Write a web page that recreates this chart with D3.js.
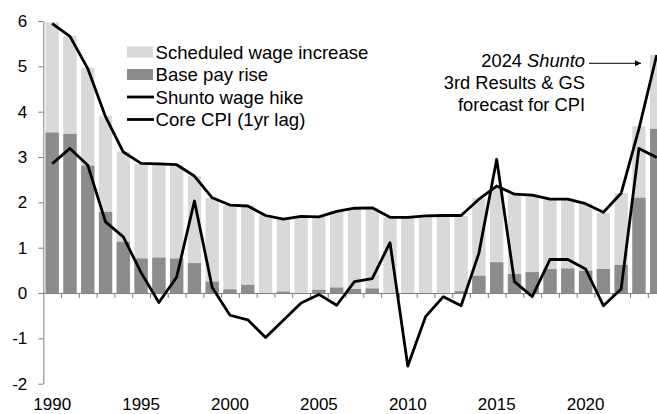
<!DOCTYPE html>
<html>
<head>
<meta charset="utf-8">
<script src="https://cdn.jsdelivr.net/npm/d3@7"></script>
<style>
  body { margin: 0; background: #fff; }
  svg { display: block; font-family: "Liberation Sans", Arial, sans-serif; }
  .axis path, .axis line { stroke: #7f7f7f; }
</style>
</head>
<body>
<div class="chart"></div>
<script>
var width = 657;
var height = 414;

var years = d3.range(1990, 2025);
var scheduled = [5.97, 5.67, 4.97, 3.90, 3.12, 2.85, 2.85, 2.82, 2.58, 2.10, 1.94, 1.93, 1.72, 1.65, 1.68, 1.68, 1.81, 1.88, 1.88, 1.67,
  1.67, 1.68, 1.70, 1.70, 2.09, 2.33, 2.18, 2.16, 2.07, 2.07, 1.98, 1.77, 2.20, 3.68, 5.25];
var basePay = [3.54, 3.51, 2.81, 1.79, 1.13, 0.76, 0.78, 0.76, 0.66, 0.25, 0.08, 0.18, 0.00, 0.03, 0.00, 0.07, 0.12, 0.09, 0.10, 0.00,
  0.00, 0.00, 0.00, 0.04, 0.38, 0.68, 0.42, 0.46, 0.53, 0.54, 0.49, 0.53, 0.62, 2.10, 3.62];
var shunto = [5.94, 5.66, 4.95, 3.89, 3.11, 2.86, 2.85, 2.83, 2.58, 2.10, 1.94, 1.92, 1.71, 1.63, 1.69, 1.68, 1.80, 1.87, 1.88, 1.67,
  1.67, 1.70, 1.71, 1.71, 2.07, 2.36, 2.18, 2.16, 2.07, 2.07, 1.97, 1.78, 2.20, 3.62, 5.25];
var coreCpi = [2.85, 3.19, 2.82, 1.57, 1.24, 0.45, -0.21, 0.35, 2.03, 0.12, -0.49, -0.59, -0.98, -0.60, -0.22, -0.03, -0.27, 0.25, 0.32, 1.11,
  -1.61, -0.52, -0.08, -0.28, 0.88, 2.95, 0.25, -0.08, 0.74, 0.74, 0.53, -0.28, 0.09, 3.19, 2.99];
var yTicks = [-2, -1, 0, 1, 2, 3, 4, 5, 6];
var labelYears = [1990, 1995, 2000, 2005, 2010, 2015, 2020];
var legendItems = ["Scheduled wage increase", "Base pay rise", "Shunto wage hike", "Core CPI (1yr lag)"];

var left = 43.3, step = 17.78;
var right = left + step * years.length;

var xScale = d3.scaleBand().domain(years).range([left, right]).paddingInner(0.25).paddingOuter(0.125);
var xEdge = d3.scaleLinear().domain([1989.5, 2024.5]).range([left, right]);
var yScale = d3.scaleLinear().domain([-2, 6]).range([383.7, 21]);

var svg = d3.select(".chart").append("svg")
  .attr("width", width)
  .attr("height", height);

var rows = years.map(function (y, i) {
  return { year: y, scheduled: scheduled[i], base: basePay[i], shunto: shunto[i], cpi: coreCpi[i] };
});

// bars
svg.append("g").selectAll("rect")
  .data(rows).enter().append("rect")
  .attr("x", function (d) { return xScale(d.year); })
  .attr("width", xScale.bandwidth())
  .attr("y", function (d) { return yScale(d.scheduled); })
  .attr("height", function (d) { return yScale(0) - yScale(d.scheduled); })
  .attr("fill", "#d9d9d9");

svg.append("g").selectAll("rect")
  .data(rows).enter().append("rect")
  .attr("x", function (d) { return xScale(d.year); })
  .attr("width", xScale.bandwidth())
  .attr("y", function (d) { return yScale(d.base); })
  .attr("height", function (d) { return yScale(0) - yScale(d.base); })
  .attr("fill", "#8c8c8c");

// axes
var yAxis = svg.append("g")
  .attr("class", "axis")
  .attr("transform", "translate(" + left + ",0)")
  .call(d3.axisLeft(yScale).tickValues(yTicks).tickSize(5).tickSizeOuter(0).tickPadding(11)
    .tickFormat(function (d) { return String(d); }));
yAxis.selectAll("text").style("font-size", "17px").attr("fill", "#000");

svg.append("g")
  .attr("class", "axis")
  .attr("transform", "translate(0," + yScale(0) + ")")
  .call(d3.axisBottom(xEdge).tickValues(d3.range(1990.5, 2025, 1)).tickSize(5).tickSizeOuter(0).tickFormat(""));

svg.append("g").selectAll("text")
  .data(labelYears).enter().append("text")
  .attr("x", function (d) { return xScale(d) + xScale.bandwidth() / 2; })
  .attr("y", 410)
  .attr("text-anchor", "middle")
  .style("font-size", "17px")
  .text(function (d) { return d; });

// lines
var line = d3.line()
  .x(function (d) { return xScale(d.year) + xScale.bandwidth() / 2; });

svg.append("path")
  .datum(rows)
  .attr("fill", "none")
  .attr("stroke", "#000")
  .attr("stroke-width", 2.8)
  .attr("stroke-linejoin", "round")
  .attr("d", line.y(function (d) { return yScale(d.cpi); }));

svg.append("path")
  .datum(rows)
  .attr("fill", "none")
  .attr("stroke", "#000")
  .attr("stroke-width", 2.8)
  .attr("stroke-linejoin", "round")
  .attr("d", line.y(function (d) { return yScale(d.shunto); }));

// legend
var legend = svg.append("g").attr("transform", "translate(127,0)");
legendItems.forEach(function (name, i) {
  var cy = 52 + i * 22.5;
  if (i < 2) {
    legend.append("rect")
      .attr("x", 0).attr("y", cy - 5.5).attr("width", 26).attr("height", 11)
      .attr("fill", i === 0 ? "#d9d9d9" : "#8c8c8c");
  } else {
    legend.append("line")
      .attr("x1", 0).attr("x2", 27).attr("y1", cy).attr("y2", cy)
      .attr("stroke", "#000").attr("stroke-width", 2.8);
  }
  legend.append("text")
    .attr("x", 28.5).attr("y", cy + 6.5)
    .style("font-size", "18.6px")
    .text(name);
});

// annotation
var note = svg.append("g").style("font-size", "18.3px").attr("text-anchor", "end");
var t1 = note.append("text").attr("x", 585).attr("y", 66.5);
t1.append("tspan").text("2024 ");
t1.append("tspan").style("font-style", "italic").text("Shunto");
note.append("text").attr("x", 585).attr("y", 88.5).text("3rd Results & GS");
note.append("text").attr("x", 585).attr("y", 110.5).text("forecast for CPI");

svg.append("defs").append("marker")
  .attr("id", "arrow")
  .attr("viewBox", "0 0 10 10")
  .attr("refX", 10).attr("refY", 5)
  .attr("markerWidth", 8).attr("markerHeight", 6)
  .attr("markerUnits", "userSpaceOnUse")
  .attr("orient", "auto")
  .append("path").attr("d", "M0,0L10,5L0,10Z").attr("fill", "#000");

svg.append("line")
  .attr("x1", 589).attr("y1", 63.3).attr("x2", 641).attr("y2", 63.3)
  .attr("stroke", "#000").attr("stroke-width", 1)
  .attr("marker-end", "url(#arrow)");
</script>
</body>
</html>
